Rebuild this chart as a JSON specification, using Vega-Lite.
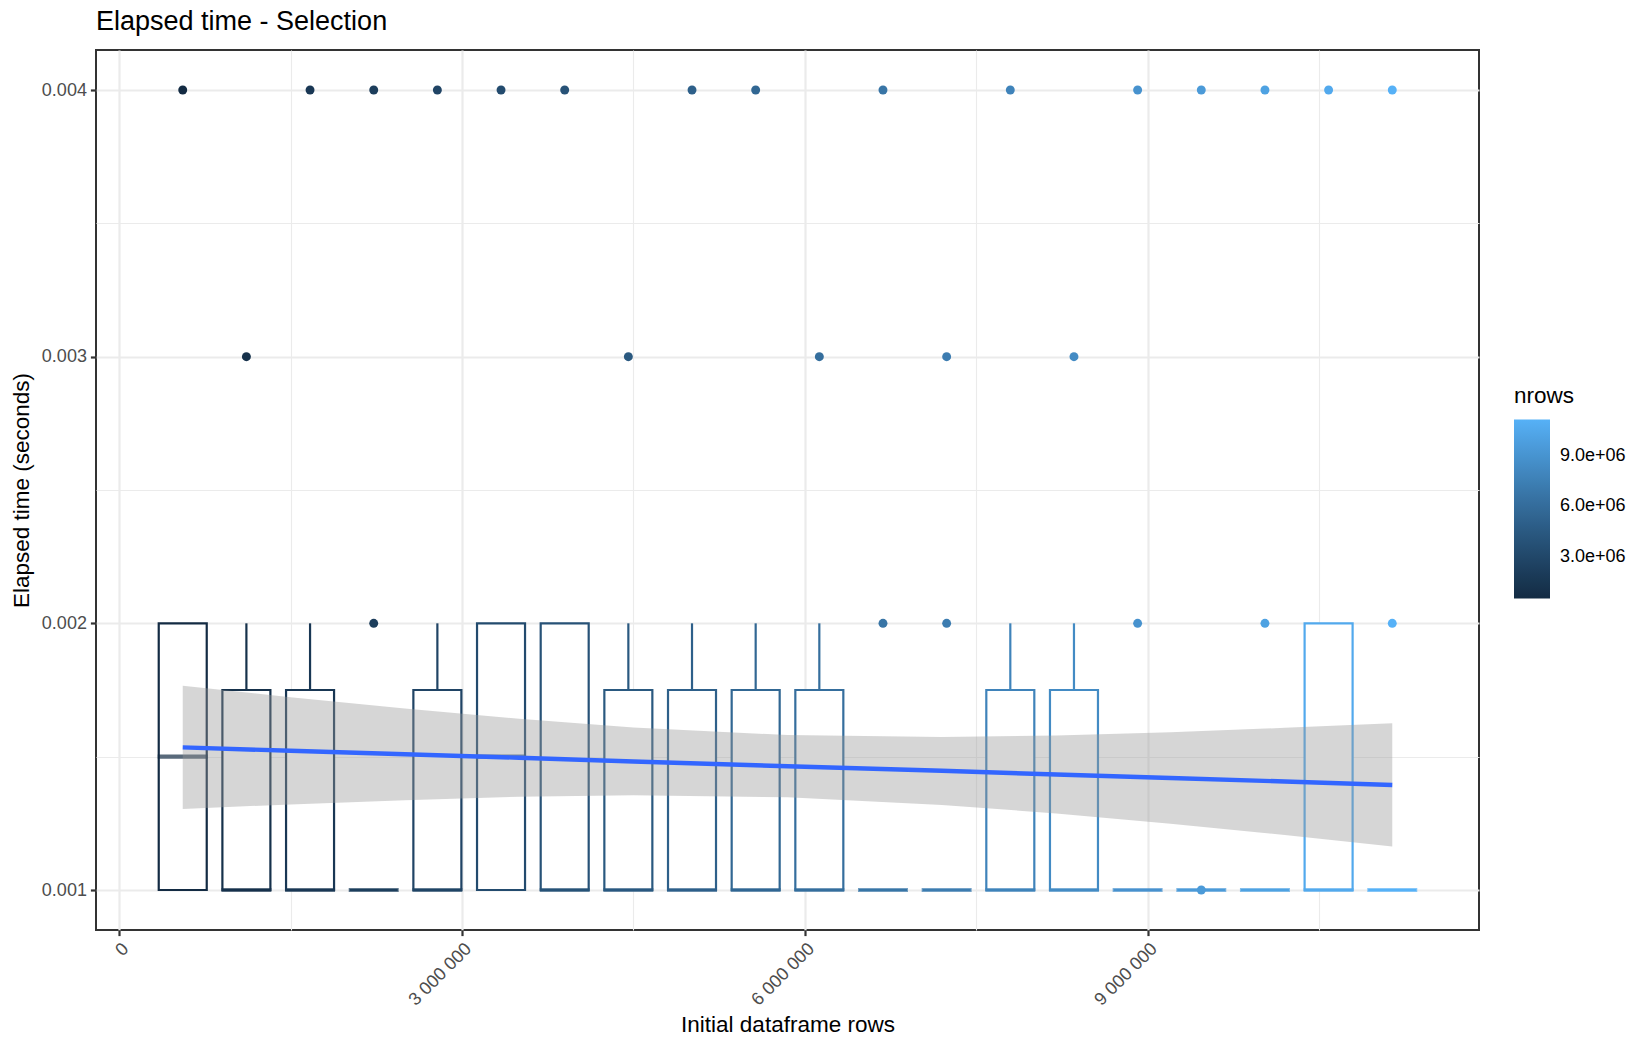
{
  "$schema": "https://vega.github.io/schema/vega-lite/v6.json",
  "autosize": {"type": "none"},
  "width": 1383,
  "height": 880,
  "padding": {"left": 96, "top": 50, "right": 171, "bottom": 120},
  "background": "white",
  "view": {"stroke": "#333333", "strokeWidth": 2},
  "config": {
    "font": "Liberation Sans"
  },
  "title": {
    "text": "Elapsed time - Selection",
    "anchor": "start",
    "frame": "group",
    "font": "Liberation Sans",
    "fontSize": 27,
    "fontWeight": "normal",
    "color": "black",
    "offset": 14
  },
  "datasets": {
    "boxes": [
      {"nrows": 557000, "q1": 0.001, "median": 0.0015, "q3": 0.002, "upper": 0.002},
      {"nrows": 1114000, "q1": 0.001, "median": 0.001, "q3": 0.00175, "upper": 0.002},
      {"nrows": 1671000, "q1": 0.001, "median": 0.001, "q3": 0.00175, "upper": 0.002},
      {"nrows": 2228000, "q1": 0.001, "median": 0.001, "q3": 0.001, "upper": 0.001},
      {"nrows": 2785000, "q1": 0.001, "median": 0.001, "q3": 0.00175, "upper": 0.002},
      {"nrows": 3342000, "q1": 0.001, "median": 0.0015, "q3": 0.002, "upper": 0.002},
      {"nrows": 3899000, "q1": 0.001, "median": 0.001, "q3": 0.002, "upper": 0.002},
      {"nrows": 4456000, "q1": 0.001, "median": 0.001, "q3": 0.00175, "upper": 0.002},
      {"nrows": 5013000, "q1": 0.001, "median": 0.001, "q3": 0.00175, "upper": 0.002},
      {"nrows": 5570000, "q1": 0.001, "median": 0.001, "q3": 0.00175, "upper": 0.002},
      {"nrows": 6127000, "q1": 0.001, "median": 0.001, "q3": 0.00175, "upper": 0.002},
      {"nrows": 6684000, "q1": 0.001, "median": 0.001, "q3": 0.001, "upper": 0.001},
      {"nrows": 7241000, "q1": 0.001, "median": 0.001, "q3": 0.001, "upper": 0.001},
      {"nrows": 7798000, "q1": 0.001, "median": 0.001, "q3": 0.00175, "upper": 0.002},
      {"nrows": 8355000, "q1": 0.001, "median": 0.001, "q3": 0.00175, "upper": 0.002},
      {"nrows": 8912000, "q1": 0.001, "median": 0.001, "q3": 0.001, "upper": 0.001},
      {"nrows": 9469000, "q1": 0.001, "median": 0.001, "q3": 0.001, "upper": 0.001},
      {"nrows": 10026000, "q1": 0.001, "median": 0.001, "q3": 0.001, "upper": 0.001},
      {"nrows": 10583000, "q1": 0.001, "median": 0.001, "q3": 0.002, "upper": 0.002},
      {"nrows": 11140000, "q1": 0.001, "median": 0.001, "q3": 0.001, "upper": 0.001}
    ],
    "outliers": [
      {"nrows": 557000, "time": 0.004},
      {"nrows": 1114000, "time": 0.003},
      {"nrows": 1671000, "time": 0.004},
      {"nrows": 2228000, "time": 0.002},
      {"nrows": 2228000, "time": 0.004},
      {"nrows": 2785000, "time": 0.004},
      {"nrows": 3342000, "time": 0.004},
      {"nrows": 3899000, "time": 0.004},
      {"nrows": 4456000, "time": 0.003},
      {"nrows": 5013000, "time": 0.004},
      {"nrows": 5570000, "time": 0.004},
      {"nrows": 6127000, "time": 0.003},
      {"nrows": 6684000, "time": 0.002},
      {"nrows": 6684000, "time": 0.004},
      {"nrows": 7241000, "time": 0.002},
      {"nrows": 7241000, "time": 0.003},
      {"nrows": 7798000, "time": 0.004},
      {"nrows": 8355000, "time": 0.003},
      {"nrows": 8912000, "time": 0.002},
      {"nrows": 8912000, "time": 0.004},
      {"nrows": 9469000, "time": 0.001},
      {"nrows": 9469000, "time": 0.004},
      {"nrows": 10026000, "time": 0.002},
      {"nrows": 10026000, "time": 0.004},
      {"nrows": 10583000, "time": 0.004},
      {"nrows": 11140000, "time": 0.002},
      {"nrows": 11140000, "time": 0.004}
    ],
    "smooth": [
      {"nrows": 557000, "fit": 0.001535, "lo": 0.001304, "hi": 0.001766},
      {"nrows": 1500000, "fit": 0.001522, "lo": 0.001321, "hi": 0.001723},
      {"nrows": 2500000, "fit": 0.001509, "lo": 0.001337, "hi": 0.001681},
      {"nrows": 3500000, "fit": 0.001496, "lo": 0.001350, "hi": 0.001642},
      {"nrows": 4500000, "fit": 0.001482, "lo": 0.001355, "hi": 0.001609},
      {"nrows": 5850000, "fit": 0.001464, "lo": 0.001348, "hi": 0.001581},
      {"nrows": 7200000, "fit": 0.001447, "lo": 0.001319, "hi": 0.001574},
      {"nrows": 8200000, "fit": 0.001433, "lo": 0.001287, "hi": 0.001579},
      {"nrows": 9200000, "fit": 0.001420, "lo": 0.001248, "hi": 0.001592},
      {"nrows": 10200000, "fit": 0.001407, "lo": 0.001206, "hi": 0.001608},
      {"nrows": 11140000, "fit": 0.001394, "lo": 0.001163, "hi": 0.001625}
    ]
  },
  "encoding": {
    "x": {
      "field": "nrows",
      "type": "quantitative",
      "title": "Initial dataframe rows",
      "scale": {"domain": [-201912, 11898912], "nice": false, "zero": false, "padding": 0},
      "axis": {
        "values": [0, 1500000, 3000000, 4500000, 6000000, 7500000, 9000000, 10500000],
        "labelExpr": "datum.value % 3000000 === 0 ? replace(replace(format(datum.value, ','), ',', ' '), ',', ' ') : ''",
        "labelAngle": -45,
        "labelAlign": "right",
        "labelBaseline": "top",
        "labelFont": "Liberation Sans",
        "labelFontSize": 18,
        "labelColor": "#4D4D4D",
        "labelPadding": 4,
        "labelOverlap": false,
        "labelBound": false,
        "labelFlush": false,
        "domain": false,
        "grid": true,
        "gridColor": "#EBEBEB",
        "gridWidth": {"condition": {"test": "datum.value % 3000000 === 0", "value": 2.2}, "value": 1.1},
        "ticks": true,
        "tickColor": "#333333",
        "tickSize": 5.6,
        "tickWidth": 2.2,
        "tickOpacity": {"condition": {"test": "datum.value % 3000000 === 0", "value": 1}, "value": 0},
        "titleFont": "Liberation Sans",
        "titleFontSize": 22.5,
        "titleFontWeight": "normal",
        "titleColor": "black",
        "titlePadding": 5
      }
    }
  },
  "layer": [
    {
      "data": {"name": "boxes"},
      "mark": {"type": "rule", "strokeWidth": 2.2},
      "encoding": {
        "y": {
          "field": "q3",
          "type": "quantitative",
          "title": "Elapsed time (seconds)",
          "scale": {"domain": [0.00085, 0.00415], "nice": false, "zero": false},
          "axis": {
            "values": [0.001, 0.0015, 0.002, 0.0025, 0.003, 0.0035, 0.004],
            "labelExpr": "abs(datum.value * 1000 - round(datum.value * 1000)) < 0.000001 ? format(datum.value, '.3f') : ''",
            "labelFont": "Liberation Sans",
            "labelFontSize": 18,
            "labelColor": "#4D4D4D",
            "labelPadding": 4,
            "domain": false,
            "grid": true,
            "gridColor": "#EBEBEB",
            "gridWidth": {"condition": {"test": "abs(datum.value * 1000 - round(datum.value * 1000)) < 0.000001", "value": 2.2}, "value": 1.1},
            "ticks": true,
            "tickColor": "#333333",
            "tickSize": 5.6,
            "tickWidth": 2.2,
            "tickOpacity": {"condition": {"test": "abs(datum.value * 1000 - round(datum.value * 1000)) < 0.000001", "value": 1}, "value": 0},
            "titleFont": "Liberation Sans",
            "titleFontSize": 22.5,
            "titleFontWeight": "normal",
            "titleColor": "black",
            "titlePadding": 8
          }
        },
        "y2": {"field": "upper"},
        "stroke": {
          "field": "nrows",
          "type": "quantitative",
          "scale": {"domain": [557000, 11140000], "range": ["#132B43", "#56B1F7"], "interpolate": "lab"},
          "legend": {
            "type": "gradient",
            "title": "nrows",
            "orient": "none",
            "legendX": 1418,
            "legendY": 335,
            "direction": "vertical",
            "values": [3000000, 6000000, 9000000],
            "labelExpr": "replace(format(datum.value, '.1e'), 'e+', 'e+0')",
            "gradientLength": 179,
            "gradientThickness": 36,
            "gradientStrokeWidth": 0,
            "labelFont": "Liberation Sans",
            "labelFontSize": 18,
            "labelColor": "black",
            "labelOffset": 10,
            "titleFont": "Liberation Sans",
            "titleFontSize": 22.5,
            "titleFontWeight": "normal",
            "titleColor": "black",
            "titlePadding": 12
          }
        }
      }
    },
    {
      "data": {"name": "boxes"},
      "mark": {"type": "bar", "orient": "vertical", "size": 48, "fill": "white", "strokeWidth": 2.2},
      "encoding": {
        "y": {"field": "q1", "type": "quantitative"},
        "y2": {"field": "q3"},
        "stroke": {"field": "nrows", "type": "quantitative"}
      }
    },
    {
      "data": {"name": "boxes"},
      "mark": {"type": "tick", "orient": "horizontal", "size": 50, "thickness": 4.2},
      "encoding": {
        "y": {"field": "median", "type": "quantitative"},
        "fill": {
          "field": "nrows",
          "type": "quantitative",
          "scale": {"range": ["#132B43", "#56B1F7"], "interpolate": "lab", "nice": false, "zero": false},
          "legend": null
        }
      }
    },
    {
      "data": {"name": "outliers"},
      "mark": {"type": "circle", "size": 80, "opacity": 1},
      "encoding": {
        "y": {"field": "time", "type": "quantitative"},
        "fill": {"field": "nrows", "type": "quantitative", "legend": null}
      }
    },
    {
      "data": {"name": "smooth"},
      "mark": {"type": "area", "color": "#999999", "opacity": 0.4},
      "encoding": {
        "y": {"field": "lo", "type": "quantitative"},
        "y2": {"field": "hi"}
      }
    },
    {
      "data": {"name": "smooth"},
      "mark": {"type": "line", "color": "#3366FF", "strokeWidth": 4.4},
      "encoding": {
        "y": {"field": "fit", "type": "quantitative"}
      }
    }
  ]
}
